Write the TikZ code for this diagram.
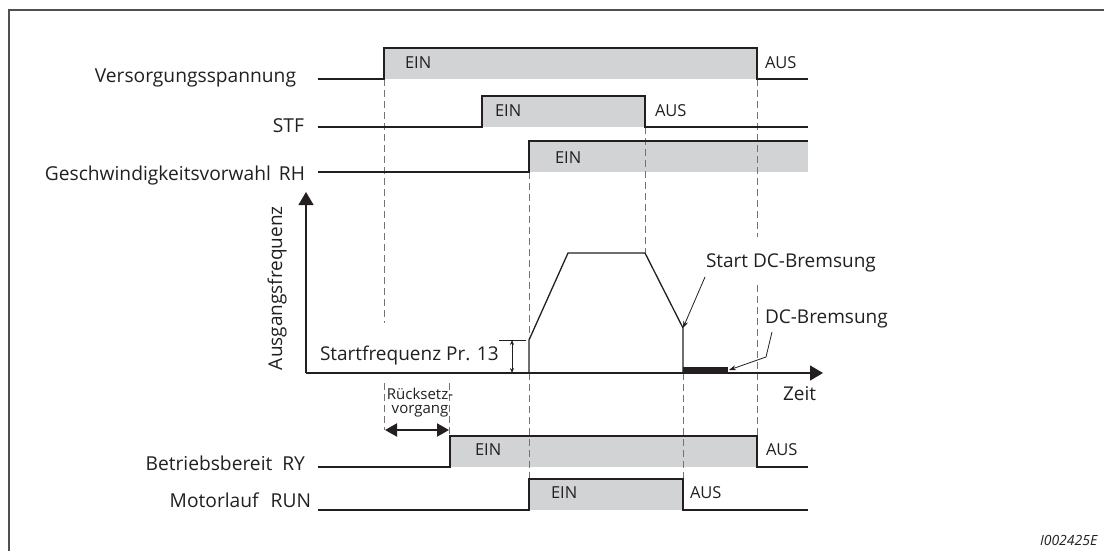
\documentclass[tikz,border=0pt]{standalone}
\usepackage{fontspec}
\setmainfont{Open Sans}
\usetikzlibrary{arrows.meta, positioning}

\definecolor{sigfill}{RGB}{209,211,212}
\definecolor{sigline}{RGB}{35,31,32}
\definecolor{guidegray}{RGB}{115,115,118}
\definecolor{framegray}{RGB}{80,80,82}

\begin{document}
\begin{tikzpicture}[
    x=1pt, y=-1pt,
    every node/.style={inner sep=0pt, outer sep=0pt, text=sigline},
    siglabel/.style={anchor=base east, font=\fontsize{19.2}{22}\selectfont},
    note/.style={anchor=base west, font=\fontsize{19}{22}\selectfont},
    state/.style={anchor=base west, font=\fontsize{16.5}{19}\selectfont},
    signal/.style={draw=sigline, line width=1.3pt},
    onfill/.style={fill=sigfill},
    guide/.style={draw=guidegray, line width=0.9pt, dash pattern=on 7pt off 4pt},
    axis/.style={draw=sigline, line width=1.3pt, -{Triangle[length=13pt,width=15pt]}},
    pointer/.style={draw=sigline, line width=0.8pt, -{Stealth[length=7pt,width=5pt]}},
    dimarrow/.style={draw=sigline, line width=0.7pt, {Stealth[length=5pt,width=4pt]}-{Stealth[length=5pt,width=4pt]}},
    resetarrow/.style={draw=sigline, line width=2pt, {Triangle[length=12pt,width=13pt]}-{Triangle[length=12pt,width=13pt]}}
]
\useasboundingbox (0,0) rectangle (1104,551);

% ------------------------
% Frame
% ------------------------
\draw[draw=framegray, line width=1.6pt] (9,551) -- (9,10) -- (1104,10);

% ------------------------
% Gray "EIN" phases
% ------------------------
\fill[onfill] (384,48) rectangle (757,79);
\fill[onfill] (482,96) rectangle (645,127);
\fill[onfill] (529,141) rectangle (808,172);
\fill[onfill] (450,436) rectangle (757,467);
\fill[onfill] (529,479) rectangle (683,510);

% ------------------------
% Dashed guide lines
% ------------------------
\draw[guide] (384,79) -- (384,323);
\draw[guide] (384,383) -- (384,430);
\draw[guide] (449,383) -- (449,436);
\draw[guide] (529,172) -- (529,340);
\draw[guide] (529,373) -- (529,479);
\draw[guide] (645,127) -- (645,253);
\draw[guide] (683,373) -- (683,479);
\draw[guide] (757,79) -- (757,237);
\draw[guide] (757,285) -- (757,436);

% ------------------------
% Signals
% ------------------------
\node[siglabel] (vs) at (296,82) {Versorgungsspannung};
\draw[signal] (318,79) -- (384,79) -- (384,48) -- (757,48) -- (757,79) -- (808,79);
\node[state] (vson) at (405,69) {EIN};
\node[state] (vsoff) at (765,69) {AUS};

\node[siglabel] (stf) at (304,132) {STF};
\draw[signal] (318,127) -- (482,127) -- (482,96) -- (645,96) -- (645,127) -- (808,127);
\node[state] (stfon) at (495,117) {EIN};
\node[state] (stfoff) at (655,117) {AUS};

\node[siglabel] (rh) at (305,180) {Geschwindigkeitsvorwahl\hspace{3pt} RH};
\draw[signal] (318,172) -- (529,172) -- (529,141) -- (808,141);
\node[state] (rhon) at (555,163) {EIN};

\node[siglabel] (ry) at (305,470) {Betriebsbereit\hspace{5pt} RY};
\draw[signal] (318,467) -- (450,467) -- (450,436) -- (757,436) -- (757,467) -- (808,467);
\node[state] (ryon) at (475,455) {EIN};
\node[state] (ryoff) at (766,455) {AUS};

\node[siglabel] (run) at (311,507) {Motorlauf\hspace{7pt} RUN};
\draw[signal] (318,510) -- (529,510) -- (529,479) -- (683,479) -- (683,510) -- (808,510);
\node[state] (runon) at (551,498) {EIN};
\node[state] (runoff) at (690,498) {AUS};

% ------------------------
% Output frequency
% ------------------------
\coordinate (origin) at (306,373);
\draw[axis] (origin) -- (306,192);
\draw[axis] (origin) -- (823,373);
\node[note, rotate=90] (fout) at (282,370) {Ausgangsfrequenz};
\node[note] (time) at (783,400) {Zeit};

\draw[signal, line join=miter] (529,373) -- (529,340) -- (568,253) -- (645,253) -- (683,328) -- (683,373);
\fill[sigline] (683,367) rectangle (728,373);

% start frequency
\node[note] (fstart) at (320,360) {Startfrequenz Pr. 13};
\draw[draw=sigline, line width=0.7pt] (499,340) -- (526,340);
\draw[dimarrow] (512,340) -- (512,373);

% DC braking
\node[note] (dcstart) at (706,267) {Start DC-Bremsung};
\coordinate (brkpt) at (683,328);
\draw[pointer] (705,277) -- (brkpt);

\node[note] (dcbrake) at (765,323) {DC-Bremsung};
\coordinate (dcend) at (729,370);
\draw[pointer] (772,332) -- (766,357) -- (dcend);

% ------------------------
% Reset time
% ------------------------
\node[align=center, font=\fontsize{15}{14}\selectfont] (reset) at (420,403) {Rücksetz-\\vorgang};
\draw[resetarrow] (385,430) -- (449,430);

% ------------------------
% Figure number
% ------------------------
\node[anchor=base west, font=\fontsize{14}{16}\selectfont\itshape] (figno) at (1040,545) {I002425E};

\end{tikzpicture}
\end{document}
